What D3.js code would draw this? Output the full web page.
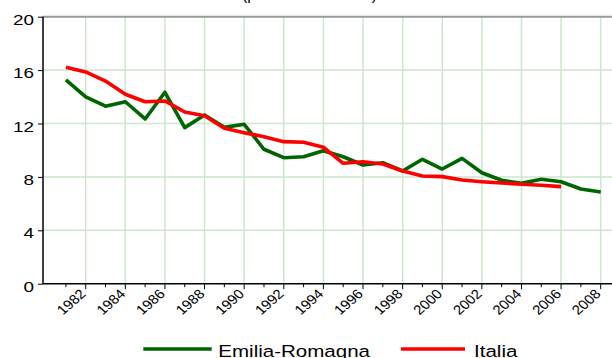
<!DOCTYPE html>
<html>
<head>
<meta charset="utf-8">
<script src="https://cdn.jsdelivr.net/npm/d3@7"></script>
<style>
  html, body { margin: 0; padding: 0; background: #fff; }
  svg { display: block; font-family: "Liberation Sans", Arial, sans-serif; }
</style>
</head>
<body>
<svg id="chart" width="612" height="358"></svg>
<script>
// Data series: annual values, 1981 onwards
const years = d3.range(1981, 2009);
const emiliaRomagna = [15.26, 14.0, 13.3, 13.63, 12.34, 14.34, 11.69, 12.64, 11.71, 11.94,
                       10.07, 9.44, 9.51, 9.96, 9.51, 8.89, 9.06, 8.44, 9.32, 8.59,
                       9.39, 8.31, 7.75, 7.52, 7.82, 7.64, 7.09, 6.87];
const italia = [16.21, 15.86, 15.18, 14.19, 13.63, 13.69, 12.86, 12.58, 11.64, 11.31,
                11.01, 10.64, 10.59, 10.22, 9.02, 9.14, 8.97, 8.44, 8.07, 8.02,
                7.77, 7.64, 7.54, 7.45, 7.37, 7.27];
const yTicks = [0, 4, 8, 12, 16, 20];
const xMajor = d3.range(1982, 2009, 2);
const xMinor = d3.range(1981, 2009, 2);
const seriesNames = ["Emilia-Romagna", "Italia"];
const titleText = "(per 1.000 abitanti)";

const colors = { "Emilia-Romagna": "#006400", "Italia": "#ff0000" };
const STRETCH = 1.26;      // horizontal widening of labels
const X_LABEL_STRETCH = 1.13;
const gridColor = "#cde6cd";

const svg = d3.select("#chart");
const W = 612;
const left = 43;

const x = d3.scaleLinear().domain([1981, 2008]).range([65.9, 600.7]);
const y = d3.scaleLinear().domain([0, 20]).range([283.7, 16.7]);

// Title (runs off the top edge)
svg.append("text")
  .attr("x", 242).attr("y", 0)
  .attr("textLength", 135).attr("lengthAdjust", "spacingAndGlyphs")
  .attr("font-size", 16).attr("fill", "#000")
  .text(titleText);

// Grid
const grid = svg.append("g");
grid.selectAll("line.h").data(yTicks.filter(d => d > 0 && d < 20)).join("line")
  .attr("x1", left).attr("x2", W)
  .attr("y1", d => y(d)).attr("y2", d => y(d))
  .attr("stroke", gridColor).attr("stroke-width", 1.5);
grid.selectAll("line.v").data(xMajor).join("line")
  .attr("x1", d => x(d)).attr("x2", d => x(d))
  .attr("y1", y(20)).attr("y2", y(0))
  .attr("stroke", gridColor).attr("stroke-width", 1.5);

// Top frame line
svg.append("line")
  .attr("x1", left).attr("x2", W)
  .attr("y1", y(20)).attr("y2", y(20))
  .attr("stroke", "#999").attr("stroke-width", 2);

// Series lines
const line = d3.line().x((d, i) => x(years[i])).y(d => y(d));
[["Emilia-Romagna", emiliaRomagna], ["Italia", italia]].forEach(([name, vals]) => {
  svg.append("path")
    .datum(vals)
    .attr("fill", "none")
    .attr("stroke", colors[name])
    .attr("stroke-width", 3.6)
    .attr("stroke-linejoin", "round")
    .attr("d", line);
});

// Y axis
const yAxis = svg.append("g")
  .attr("transform", `translate(${left},0)`)
  .call(d3.axisLeft(y).tickValues(yTicks).tickSize(5).tickFormat(d3.format("d")));
yAxis.select(".domain").attr("stroke", "#000").attr("stroke-width", 1.5)
  .attr("d", `M0,${y(20)}V${y(0)}`);
yAxis.selectAll(".tick line").attr("stroke", "#000");
yAxis.selectAll(".tick text")
  .attr("x", 0).attr("dy", "0.5em")
  .attr("transform", `translate(-9,0) scale(${STRETCH},1)`)
  .attr("font-size", 15).attr("fill", "#000")
  .attr("font-family", "Liberation Sans, Arial, sans-serif");

// X axis
const xAxisG = svg.append("g").attr("transform", `translate(0,${y(0)})`);
xAxisG.append("line")
  .attr("x1", left).attr("x2", W).attr("y1", 0).attr("y2", 0)
  .attr("stroke", "#000").attr("stroke-width", 1.5);
xAxisG.selectAll("line.minor").data(xMinor).join("line")
  .attr("class", "minor")
  .attr("x1", d => x(d)).attr("x2", d => x(d))
  .attr("y1", 0).attr("y2", 3.5)
  .attr("stroke", "#000");
xAxisG.selectAll("line.major").data(xMajor).join("line")
  .attr("class", "major")
  .attr("x1", d => x(d)).attr("x2", d => x(d))
  .attr("y1", 0).attr("y2", 5.5)
  .attr("stroke", "#000");
xAxisG.selectAll("text").data(xMajor).join("text")
  .attr("text-anchor", "end")
  .attr("font-size", 13.3)
  .attr("fill", "#000")
  .attr("transform", d => `translate(${x(d) + 1},11) scale(${X_LABEL_STRETCH},1) rotate(-45)`)
  .text(d => d);

// Legend
const legend = svg.append("g");
const legendItems = [
  { name: seriesNames[0], x1: 143.3, x2: 211.7, tx: 218.3 },
  { name: seriesNames[1], x1: 401, x2: 465, tx: 474 }
];
legendItems.forEach(it => {
  legend.append("line")
    .attr("x1", it.x1).attr("x2", it.x2).attr("y1", 349).attr("y2", 349)
    .attr("stroke", colors[it.name]).attr("stroke-width", 3.6);
  legend.append("text")
    .attr("transform", `translate(${it.tx},356.5) scale(${STRETCH},1)`)
    .attr("font-size", 16.3).attr("fill", "#000")
    .text(it.name);
});
</script>
</body>
</html>
